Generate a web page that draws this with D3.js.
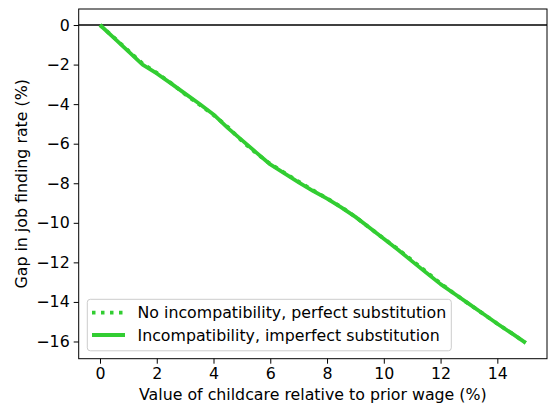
<!DOCTYPE html>
<html><head><meta charset="utf-8">
<script src="https://cdn.jsdelivr.net/npm/d3@7"></script>
<style>body{margin:0;background:#fff;} svg{display:block;font-family:"DejaVu Sans",sans-serif;}</style>
</head><body>
<svg id="c" width="548" height="407"></svg>
<script>
const xValues = [0,0.5,1,1.5,2,2.5,3,3.5,4,4.5,5,5.5,6,6.5,7,7.5,8,8.5,9,9.5,10,10.5,11,11.5,12,12.5,13,13.5,14,14.5,15];
const solidValues = [0,-0.66,-1.33,-2.0,-2.45,-2.95,-3.47,-3.98,-4.52,-5.2,-5.82,-6.44,-7.05,-7.5,-7.95,-8.38,-8.78,-9.22,-9.7,-10.25,-10.8,-11.36,-11.95,-12.52,-13.1,-13.6,-14.1,-14.6,-15.1,-15.58,-16.07];
const dottedValues = [0,-0.64,-1.3,-1.95,-2.42,-2.93,-3.5,-4.02,-4.55,-5.15,-5.86,-6.48,-7.02,-7.47,-7.92,-8.35,-8.76,-9.2,-9.7,-10.25,-10.8,-11.33,-11.9,-12.48,-13.06,-13.6,-14.1,-14.6,-15.1,-15.58,-16.07];
const xTicks = [0,2,4,6,8,10,12,14];
const yTicks = [0,-2,-4,-6,-8,-10,-12,-14,-16];
const seriesNames = ["No incompatibility, perfect substitution","Incompatibility, imperfect substitution"];
const color = "#32cd32";

const svg = d3.select("#c");
const L = 78.7, R = 547, T = 9, B = 358.7;
const FS = 15.8;
const x = d3.scaleLinear().domain([-0.75, 15.75]).range([L, R]);
const y = d3.scaleLinear().domain([-16.87, 0.81]).range([B, T]);

const fmt = d => d3.format("d")(d).replace("-", "\u2212");

const xa = svg.append("g").attr("transform", `translate(0,${B})`)
  .call(d3.axisBottom(x).tickValues(xTicks).tickSize(5).tickPadding(4).tickFormat(fmt));
const ya = svg.append("g").attr("transform", `translate(${L},0)`)
  .call(d3.axisLeft(y).tickValues(yTicks).tickSize(5).tickPadding(4).tickFormat(fmt));
[xa, ya].forEach(a => {
  a.select(".domain").remove();
  a.selectAll("text").attr("font-size", FS).attr("fill", "#000").attr("font-family", "DejaVu Sans");
  a.selectAll("line").attr("stroke", "#000").attr("stroke-width", 1);
});

// zero line
svg.append("line").attr("x1", L).attr("x2", R).attr("y1", y(0)).attr("y2", y(0))
  .attr("stroke", "#000").attr("stroke-width", 1.4);

const line = vals => d3.line().x((d, i) => x(xValues[i])).y(d => y(d))(vals);

svg.append("path").attr("d", line(dottedValues)).attr("fill", "none")
  .attr("stroke", color).attr("stroke-width", 3.8).attr("stroke-dasharray", "3.5,5.5");
svg.append("path").attr("d", line(solidValues)).attr("fill", "none")
  .attr("stroke", color).attr("stroke-width", 3.8).attr("stroke-linejoin", "round");

// frame
svg.append("rect").attr("x", L).attr("y", T).attr("width", R - L).attr("height", B - T)
  .attr("fill", "none").attr("stroke", "#000").attr("stroke-width", 1);

// legend
const lg = svg.append("g");
lg.append("rect").attr("x", 87.3).attr("y", 299.3).attr("width", 364).attr("height", 51.5)
  .attr("rx", 3).attr("fill", "#fff").attr("fill-opacity", 0.8).attr("stroke", "#ccc").attr("stroke-width", 1);
const rows = [312.7, 335];
lg.append("line").attr("x1", 92).attr("x2", 125).attr("y1", rows[0]).attr("y2", rows[0])
  .attr("stroke", color).attr("stroke-width", 3.8).attr("stroke-dasharray", "3.5,5.5");
lg.append("line").attr("x1", 92).attr("x2", 125).attr("y1", rows[1]).attr("y2", rows[1])
  .attr("stroke", color).attr("stroke-width", 3.8);
seriesNames.forEach((n, i) => {
  lg.append("text").attr("x", 137.5).attr("y", rows[i]).attr("dy", "0.36em")
    .attr("font-size", FS).attr("fill", "#000").text(n);
});

// axis labels
svg.append("text").attr("x", (L + R) / 2).attr("y", 400).attr("text-anchor", "middle")
  .attr("font-size", FS).attr("fill", "#000").text("Value of childcare relative to prior wage (%)");
svg.append("text").attr("transform", `translate(27,${(T + B) / 2}) rotate(-90)`)
  .attr("text-anchor", "middle").attr("font-size", FS).attr("fill", "#000")
  .text("Gap in job finding rate (%)");
</script>
</body></html>
